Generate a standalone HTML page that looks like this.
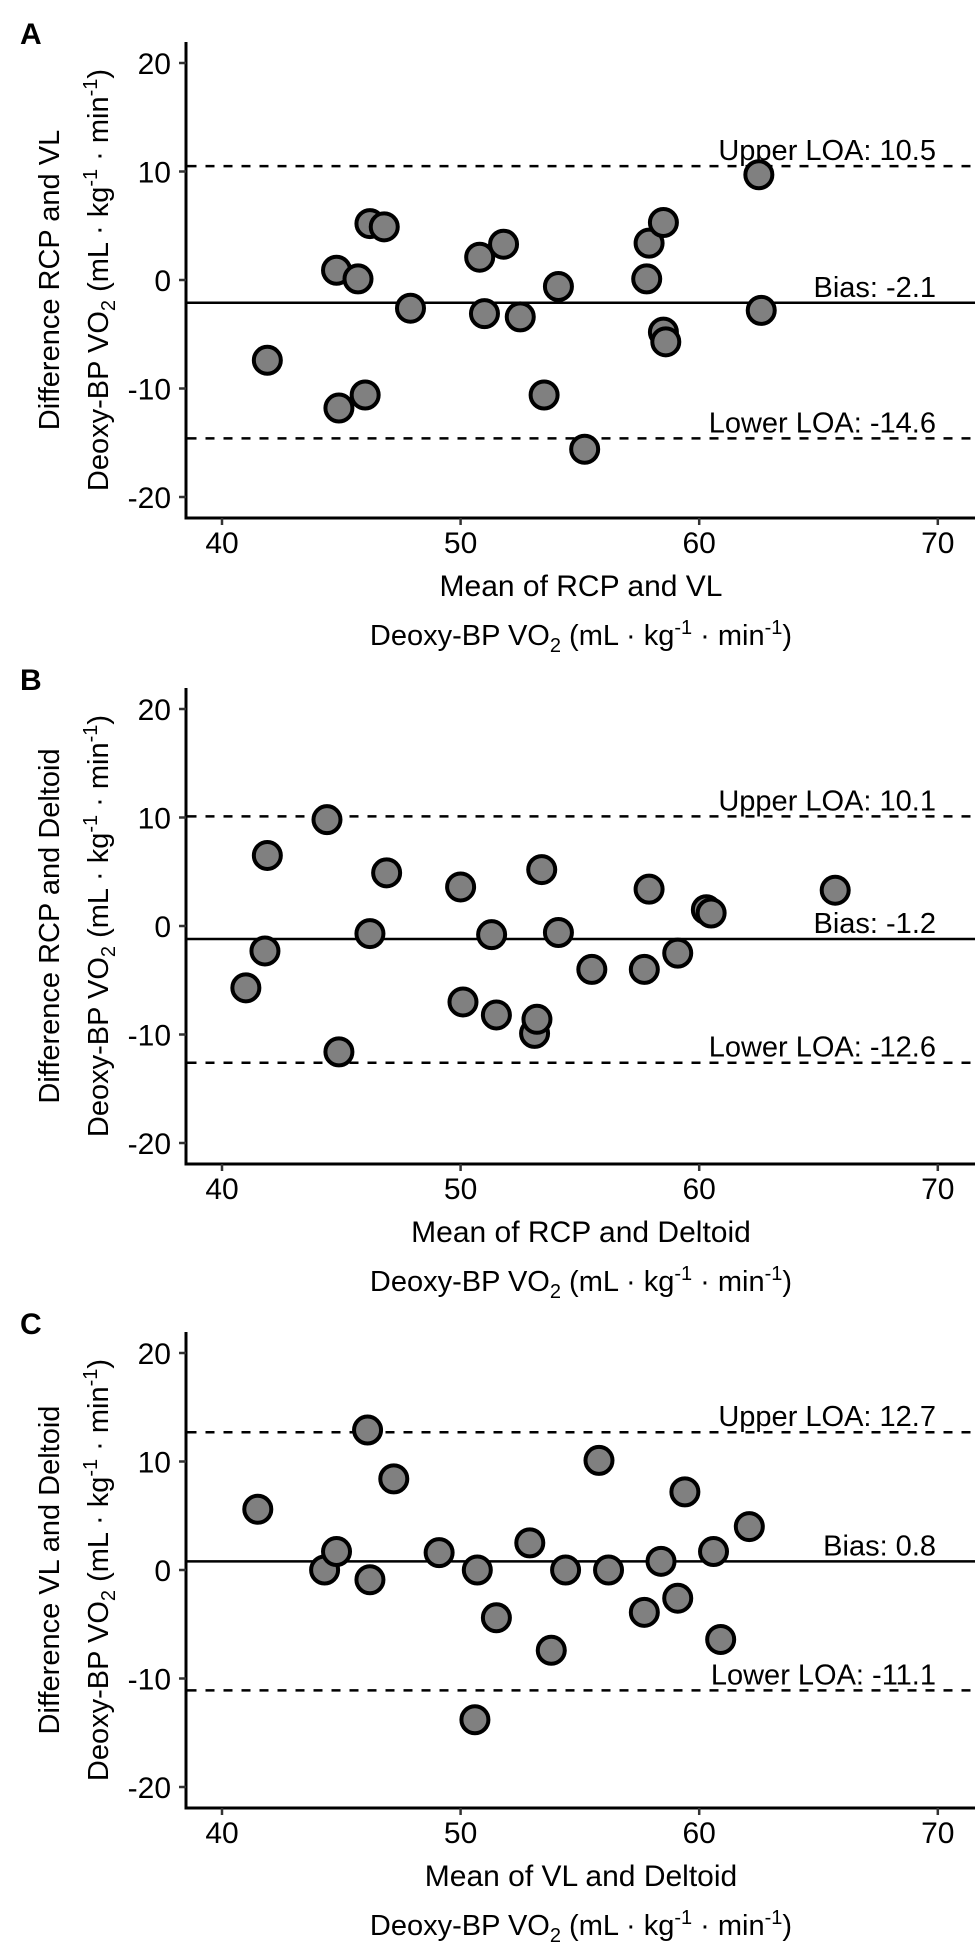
<!DOCTYPE html>
<html><head><meta charset="utf-8"><style>
html,body{margin:0;padding:0;background:#fff}
svg{display:block}
text{font-family:"Liberation Sans",Arial,sans-serif;fill:#000}
</style></head><body>
<svg id="fig" width="975" height="1942" viewBox="0 0 975 1942" xmlns="http://www.w3.org/2000/svg"></svg>
<script>
// Panel A data
const xA = [41.9,44.8,44.9,45.7,46.0,46.2,46.8,47.9,50.8,51.0,51.8,52.5,53.5,54.1,55.2,57.8,57.9,58.5,58.5,58.6,62.5,62.6];
const yA = [-7.4,0.9,-11.8,0.1,-10.6,5.2,4.9,-2.6,2.1,-3.1,3.3,-3.4,-10.6,-0.6,-15.6,0.1,3.4,5.3,-4.8,-5.7,9.7,-2.8];
const statsA = [10.5,-2.1,-14.6];
// Panel B data
const xB = [41.0,41.8,41.9,44.4,44.9,46.2,46.9,50.0,50.1,51.3,51.5,53.1,53.2,53.4,54.1,55.5,57.7,57.9,59.1,60.3,60.5,65.7];
const yB = [-5.7,-2.3,6.5,9.8,-11.6,-0.7,4.9,3.6,-7.0,-0.8,-8.2,-9.9,-8.6,5.2,-0.6,-4.0,-4.0,3.4,-2.5,1.5,1.2,3.3];
const statsB = [10.1,-1.2,-12.6];
// Panel C data
const xC = [41.5,44.3,44.8,46.1,46.2,47.2,49.1,50.7,50.6,51.5,52.9,53.8,54.4,55.8,56.2,57.7,58.4,59.1,59.4,60.6,60.9,62.1];
const yC = [5.6,0.0,1.7,12.9,-0.9,8.4,1.6,0.0,-13.8,-4.4,2.5,-7.4,0.0,10.1,0.0,-3.9,0.8,-2.6,7.2,1.7,-6.4,4.0];
const statsC = [12.7,0.8,-11.1];
const xTicks = [40,50,60,70];
const yTicks = [20,10,0,-10,-20];
const panelLetters = ['A','B','C'];
const xTitles = ['Mean of RCP and VL','Mean of RCP and Deltoid','Mean of VL and Deltoid'];
const yTitles = ['Difference RCP and VL','Difference RCP and Deltoid','Difference VL and Deltoid'];

const NS='http://www.w3.org/2000/svg';
const svg=document.getElementById('fig');
function mk(tag,attrs,parent){const e=document.createElementNS(NS,tag);for(const k in attrs)e.setAttribute(k,attrs[k]);(parent||svg).appendChild(e);return e;}

function unitsTspans(t){
  const parts=[['Deoxy-BP VO',''],['2','sub'],[' (mL · kg',''],['-1','sup'],[' · min',''],['-1','sup'],[')','']];
  parts.forEach(p=>{
    const s=mk('tspan',{},t);
    s.textContent=p[0];
    if(p[1]==='sub'){s.setAttribute('font-size','20');s.setAttribute('dy','7');}
    if(p[1]==='sup'){s.setAttribute('font-size','20');s.setAttribute('dy','-11');}
    if(p[1]===''&&s.previousSibling&&s.previousSibling.getAttribute&&s.previousSibling.getAttribute('dy')){
      s.setAttribute('dy',String(-parseFloat(s.previousSibling.getAttribute('dy'))));
    }
  });
}

function panel(idx,off,xs,ys,stats){
  const g=mk('g',{});
  
  
  const X0=186, XR=975;
  const sx=v=>222+(v-40)*23.86;
  const sy=v=>off+280-v*10.85;
  const lab=mk('text',{x:20,y:off+44,'font-size':30,'font-weight':'bold'},g);
  lab.textContent=panelLetters[idx];
  
  
  // axes
  const ya=mk('line',{x1:X0,y1:off+42,x2:X0,y2:off+518,stroke:'#000','stroke-width':3},g);
  
  
  const xa=mk('line',{x1:X0-1.5,y1:off+518,x2:XR,y2:off+518,stroke:'#000','stroke-width':3},g);
  
  
  yTicks.forEach(v=>{
    mk('line',{x1:X0-7,y1:sy(v),x2:X0,y2:sy(v),stroke:'#333','stroke-width':2.5},g);
    const t=mk('text',{x:171,y:sy(v)+11,'font-size':30,'text-anchor':'end'},g);
    t.textContent=String(v);
    
    
  });
  xTicks.forEach(v=>{
    mk('line',{x1:sx(v),y1:off+518,x2:sx(v),y2:off+525,stroke:'#333','stroke-width':2.5},g);
    const t=mk('text',{x:sx(v),y:off+553,'font-size':30,'text-anchor':'middle'},g);
    t.textContent=String(v);
    
    
  });
  // stat lines
  const names=['Upper LOA: ','Bias: ','Lower LOA: '];
  stats.forEach((v,i)=>{
    const ln=mk('line',{x1:X0+1.5,y1:sy(v),x2:XR,y2:sy(v),stroke:'#000','stroke-width':2.5},g);
    if(i!==1) ln.setAttribute('stroke-dasharray','9 9');
    
    
    const t=mk('text',{x:936,y:sy(v)-6,'font-size':29,'text-anchor':'end'},g);
    t.textContent=names[i]+v.toFixed(1);
    
    
  });
  // points
  xs.forEach((x,i)=>{
    const c=mk('circle',{cx:sx(x),cy:sy(ys[i]),r:13.5,fill:'#808080',stroke:'#000','stroke-width':4},g);
    
    
  });
  // titles
  const xt=mk('text',{x:581,y:off+596,'font-size':30,'text-anchor':'middle'},g);
  xt.textContent=xTitles[idx];
  
  
  const xu=mk('text',{x:581,y:off+645,'font-size':29,'text-anchor':'middle'},g);
  unitsTspans(xu);
  
  
  const yt=mk('text',{x:0,y:0,'font-size':29,'text-anchor':'middle',transform:'translate(59,'+(off+280)+') rotate(-90)'},g);
  yt.textContent=yTitles[idx];
  
  
  const yu=mk('text',{x:0,y:0,'font-size':29,'text-anchor':'middle',transform:'translate(108,'+(off+280)+') rotate(-90)'},g);
  unitsTspans(yu);
  
  
}
panel(0,0,xA,yA,statsA);
panel(1,646,xB,yB,statsB);
panel(2,1290,xC,yC,statsC);
</script>
</body></html>
